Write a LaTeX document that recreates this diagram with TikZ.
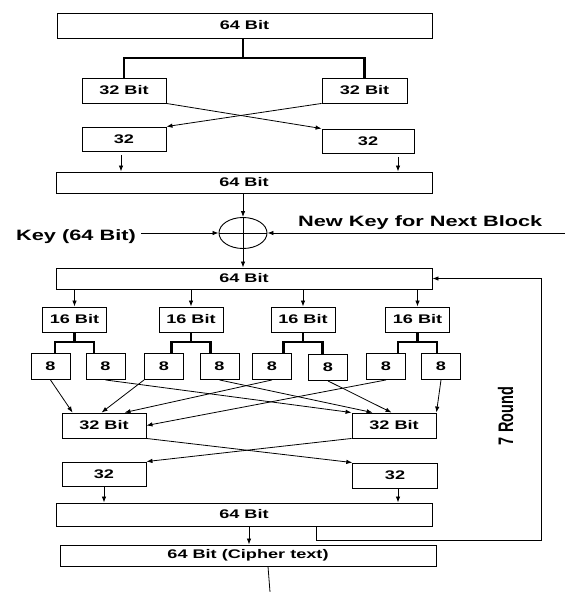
\documentclass[tikz,border=0pt]{standalone}
\usepackage{fontspec}
\usepackage{graphicx}
\usetikzlibrary{arrows.meta,shapes.geometric}
\newfontfamily\wideSans{Liberation Sans}[FakeStretch=1.45]
\newfontfamily\plainSans{Liberation Sans}

\tikzset{
  blk/.style={draw, line width=0.9pt, inner sep=0pt,
              font=\wideSans\bfseries\fontsize{12.5}{14}\selectfont},
  arr/.style={-{Latex[length=6pt,width=4.5pt]}, line width=0.8pt},
  thinline/.style={line width=0.8pt},
  bus/.style={line width=2.2pt},
  bigtext/.style={inner sep=0pt, font=\wideSans\bfseries\fontsize{15}{17}\selectfont},
}

\begin{document}
\begin{tikzpicture}[x=1pt,y=-1pt]
\useasboundingbox (0,0) rectangle (565,592);

% ---- first half: split and swap ----
\node[blk, minimum width=375pt, minimum height=25pt] (top64) at (244.5,25.5) {64 Bit};
\node[blk, minimum width=84pt, minimum height=25pt] (hL) at (124,90.5) {32 Bit};
\node[blk, minimum width=85pt, minimum height=25pt] (hR) at (364.5,90.5) {32 Bit};
\node[blk, minimum width=84pt, minimum height=24pt] (sL) at (124,139) {32};
\node[blk, minimum width=92pt, minimum height=24pt] (sR) at (368,141) {32};
\node[blk, minimum width=376pt, minimum height=21pt] (mid64) at (244,182.5) {64 Bit};

\coordinate (busT) at (243,58);
\draw[bus] (top64.south -| busT) -- (busT);
\draw[bus] (hL.north) |- (busT) -| (hR.north);

\draw[arr] (hL.south east) -- (sR.north west);
\draw[arr] (hR.south west) -- (sL.north east);

\draw[arr] ([xshift=-3pt]sL.south) ++(0,4) -- ([xshift=-3pt]sL.south |- mid64.north);
\draw[arr] ([xshift=30pt]sR.south) ++(0,4) -- ([xshift=30pt]sR.south |- mid64.north);

% ---- key mixing ----
\node[draw, ellipse, line width=0.9pt, minimum width=48pt, minimum height=31pt, inner sep=0pt] (xor) at (243,233) {};
\draw[thinline] (xor.north) -- (xor.south);
\draw[thinline] (xor.west) -- (xor.east);
\draw[arr] (mid64.south -| xor.north) -- (xor.north);

\node[bigtext, anchor=base west] (key) at (16,240) {Key (64 Bit)};
\draw[arr] (key.east |- xor.west) ++(5,0) -- (xor.west);

\node[bigtext, anchor=base west] (newkey) at (298,226) {New Key for Next Block};
\coordinate (nkEnd) at (565,233);
\draw[arr] (nkEnd) -- (xor.east);

\node[blk, minimum width=376pt, minimum height=21pt] (r64) at (244,278.5) {64 Bit};
\draw[arr] (xor.south) -- (xor.south |- r64.north);

% ---- round: 16 bit split into 8 bit parts ----
\foreach \i/\x/\ax/\bx/\by in {1/74.5/50.5/105.5/366.5, 2/191/164/219.5/366.5,
                             3/303/272/328/367.5, 4/417.5/386/441/366.5} {
  \node[blk, minimum width=64pt, minimum height=25pt] (s\i) at (\x,319.5) {16 Bit};
  \draw[arr] (s\i.north |- r64.south) -- (s\i.north);
  \node[blk, minimum width=39pt, minimum height=26pt] (a\i) at (\ax,366.5) {8};
  \node[blk, minimum width=39pt, minimum height=26pt] (b\i) at (\bx,\by) {8};
  \coordinate (dl\i) at (\x-19.5,342);
  \coordinate (dr\i) at (\x+19.5,342);
  \draw[bus] (s\i.south) -- (s\i.south |- dl\i);
  \draw[bus] (a\i.north -| dl\i) -- (dl\i) -- (dr\i) -- (dr\i |- b\i.north);
}

\node[blk, minimum width=84pt, minimum height=25pt] (L) at (104,425.5) {32 Bit};
\node[blk, minimum width=84pt, minimum height=25pt] (R) at (394,425.5) {32 Bit};

\draw[arr] (a1.south) -- ([xshift=11pt]L.north west);
\draw[arr] (a2.south west) -- ([xshift=40pt]L.north west);
\draw[arr] (a3.south) -- ([xshift=63pt]L.north west);
\draw[arr] (a4.south) -- (L.east);
\draw[arr] (b1.south) -- (R.north west);
\draw[arr] (b2.south) -- ([xshift=21pt]R.north west);
\draw[arr] (b3.south) -- ([xshift=40pt]R.north west);
\draw[arr] (b4.south) -- (R.north east);

\node[blk, minimum width=84pt, minimum height=24pt] (lL) at (104,474) {32};
\node[blk, minimum width=84.5pt, minimum height=25pt] (lR) at (395,475.5) {32};
\draw[arr] (L.south east) -- (lR.north west);
\draw[arr] (R.south west) -- (lL.north east);

\node[blk, minimum width=376pt, minimum height=23pt] (out64) at (244,514.5) {64 Bit};
\draw[arr] (lL.south) -- (lL.south |- out64.north);
\draw[arr] ([xshift=3pt]lR.south) -- ([xshift=3pt]lR.south |- out64.north);

\node[blk, minimum width=376pt, minimum height=21pt] (cipher) at (248,555.5) {64 Bit (Cipher text)};
\draw[arr] ([xshift=5pt]out64.south) -- ([xshift=5pt]out64.south |- cipher.north);
\coordinate (outEnd) at (270,592);
\draw[thinline] ([xshift=20pt]cipher.south) -- (outEnd);

% ---- feedback for the next round ----
\coordinate (fbA) at (316,540.5);
\coordinate (fbB) at (541,540.5);
\draw[arr] (out64.south -| fbA) -- (fbA) -- (fbB) |- (r64.east);

\node (rounds) at (505.5,416)
  {\scalebox{1.45}[1]{\rotatebox{90}{\plainSans\bfseries\fontsize{14.5}{16}\selectfont 7 Round}}};
\end{tikzpicture}
\end{document}
